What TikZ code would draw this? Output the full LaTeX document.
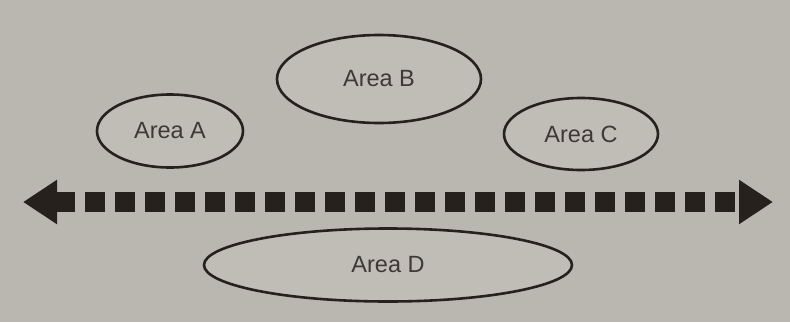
\documentclass[tikz,border=0pt]{standalone}
\usepackage{fontspec}
\setmainfont{Liberation Sans}
\usetikzlibrary{shapes.geometric,arrows.meta}
\definecolor{paper}{RGB}{186,182,176}
\definecolor{areafill}{RGB}{192,188,182}
\definecolor{ink}{RGB}{38,33,29}
\definecolor{labelink}{RGB}{62,57,52}
\tikzset{
  area/.style={ellipse, draw=ink, line width=2.6pt, fill=areafill, inner sep=0pt,
    text=labelink, font=\fontsize{23.5}{27}\selectfont},
  spectrum/.style={draw=ink, line width=20pt, dash pattern=on 20pt off 10pt,
    {Triangle[length=34pt,width=42pt]}-{Triangle[length=34pt,width=42pt]}}
}
\begin{document}
\begin{tikzpicture}[x=1pt,y=-1pt]
  \fill[paper] (0,0) rectangle (790,322);
  \useasboundingbox (0,0) rectangle (790,322);
  % the four areas
  \node[area, minimum width=146pt, minimum height=73pt] (a) at (170,131) {Area A};
  \node[area, minimum width=204pt, minimum height=88pt] (b) at (379,79) {Area B};
  \node[area, minimum width=154pt, minimum height=72pt] (c) at (581,134) {Area C};
  \node[area, minimum width=368pt, minimum height=73pt] (d) at (388,265) {Area D};
  % two-headed dashed spectrum line
  \coordinate (left) at (23,202);
  \coordinate (right) at (773,202);
  \draw[spectrum] (left) -- (right);
\end{tikzpicture}
\end{document}
